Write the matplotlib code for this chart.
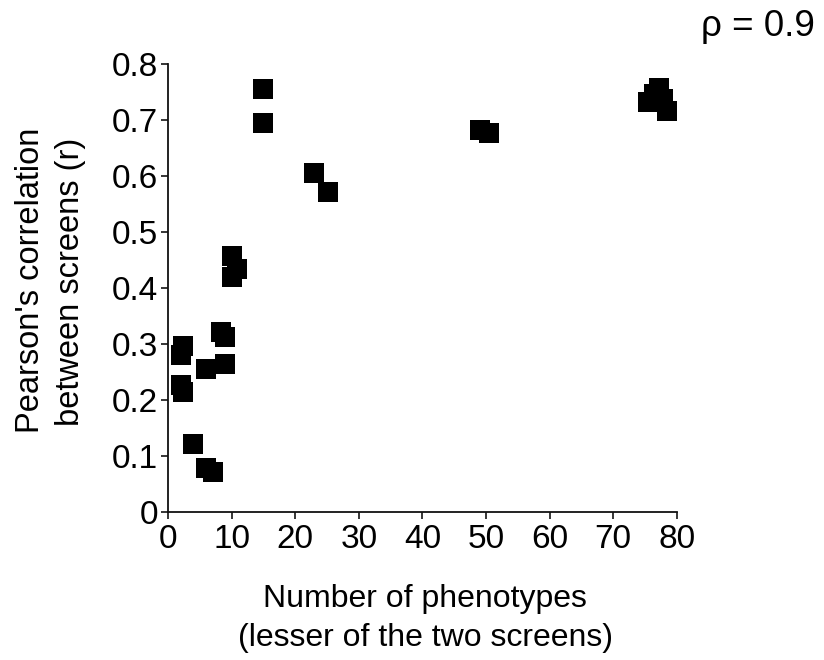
import matplotlib
matplotlib.use("Agg")
import matplotlib.pyplot as plt

plt.rcParams['font.family'] = ['Liberation Sans', 'DejaVu Sans']

# Data
n_phenotypes = [2.4, 2.0, 2.0, 2.4, 4.0, 6.0, 7.0, 6.0, 8.4, 9.0, 9.0,
                10.0, 10.0, 10.9, 15.0, 15.0, 23.0, 25.1, 49.0, 50.5,
                75.5, 76.4, 77.2, 77.8, 78.5]
pearson_r = [0.296, 0.280, 0.227, 0.214, 0.121, 0.078, 0.071, 0.255, 0.321,
             0.312, 0.264, 0.457, 0.420, 0.433, 0.755, 0.694, 0.605, 0.571,
             0.682, 0.677, 0.731, 0.745, 0.757, 0.737, 0.716]
x_ticks = [0, 10, 20, 30, 40, 50, 60, 70, 80]
y_ticks = [0, 0.1, 0.2, 0.3, 0.4, 0.5, 0.6, 0.7, 0.8]
y_tick_labels = ['0', '0.1', '0.2', '0.3', '0.4', '0.5', '0.6', '0.7', '0.8']

W, H = 824, 660
fig = plt.figure(figsize=(W / 100, H / 100), dpi=100)
ax = fig.add_axes([168 / W, 1 - 511.7 / H, (676.7 - 168) / W, (511.7 - 63.7) / H])
ax.set_facecolor('white')
ax.plot(n_phenotypes, pearson_r, linestyle='none', marker='s', ms=14.9,
        mew=0, color='black', clip_on=False)
ax.set_xlim(0, 80)
ax.set_ylim(0, 0.8)
ax.set_xticks(x_ticks)
ax.set_yticks(y_ticks)
ax.set_yticklabels(y_tick_labels)
for s in ['top', 'right']:
    ax.spines[s].set_visible(False)
for s in ['left', 'bottom']:
    ax.spines[s].set_linewidth(1.3)
    ax.spines[s].set_color('#111111')
ax.tick_params(axis='both', direction='out', length=5, width=1.1,
               labelsize=24, colors='black', pad=2)
ax.tick_params(axis='x', pad=4)

fig.text(425 / W, 1 - 599 / H, 'Number of phenotypes', ha='center', va='center', fontsize=23)
fig.text(425 / W, 1 - 638 / H, '(lesser of the two screens)', ha='center', va='center', fontsize=23)
fig.text(31 / W, 1 - 280 / H, "Pearson's correlation", ha='center', va='center',
         rotation=90, fontsize=23.5)
fig.text(71 / W, 1 - 282 / H, 'between screens (r)', ha='center', va='center',
         rotation=90, fontsize=23.5)
fig.text(815 / W, 1 - 36 / H, 'ρ = 0.9', ha='right', va='baseline', fontsize=26.5)

fig.savefig('out.png', dpi=100, facecolor='white')
